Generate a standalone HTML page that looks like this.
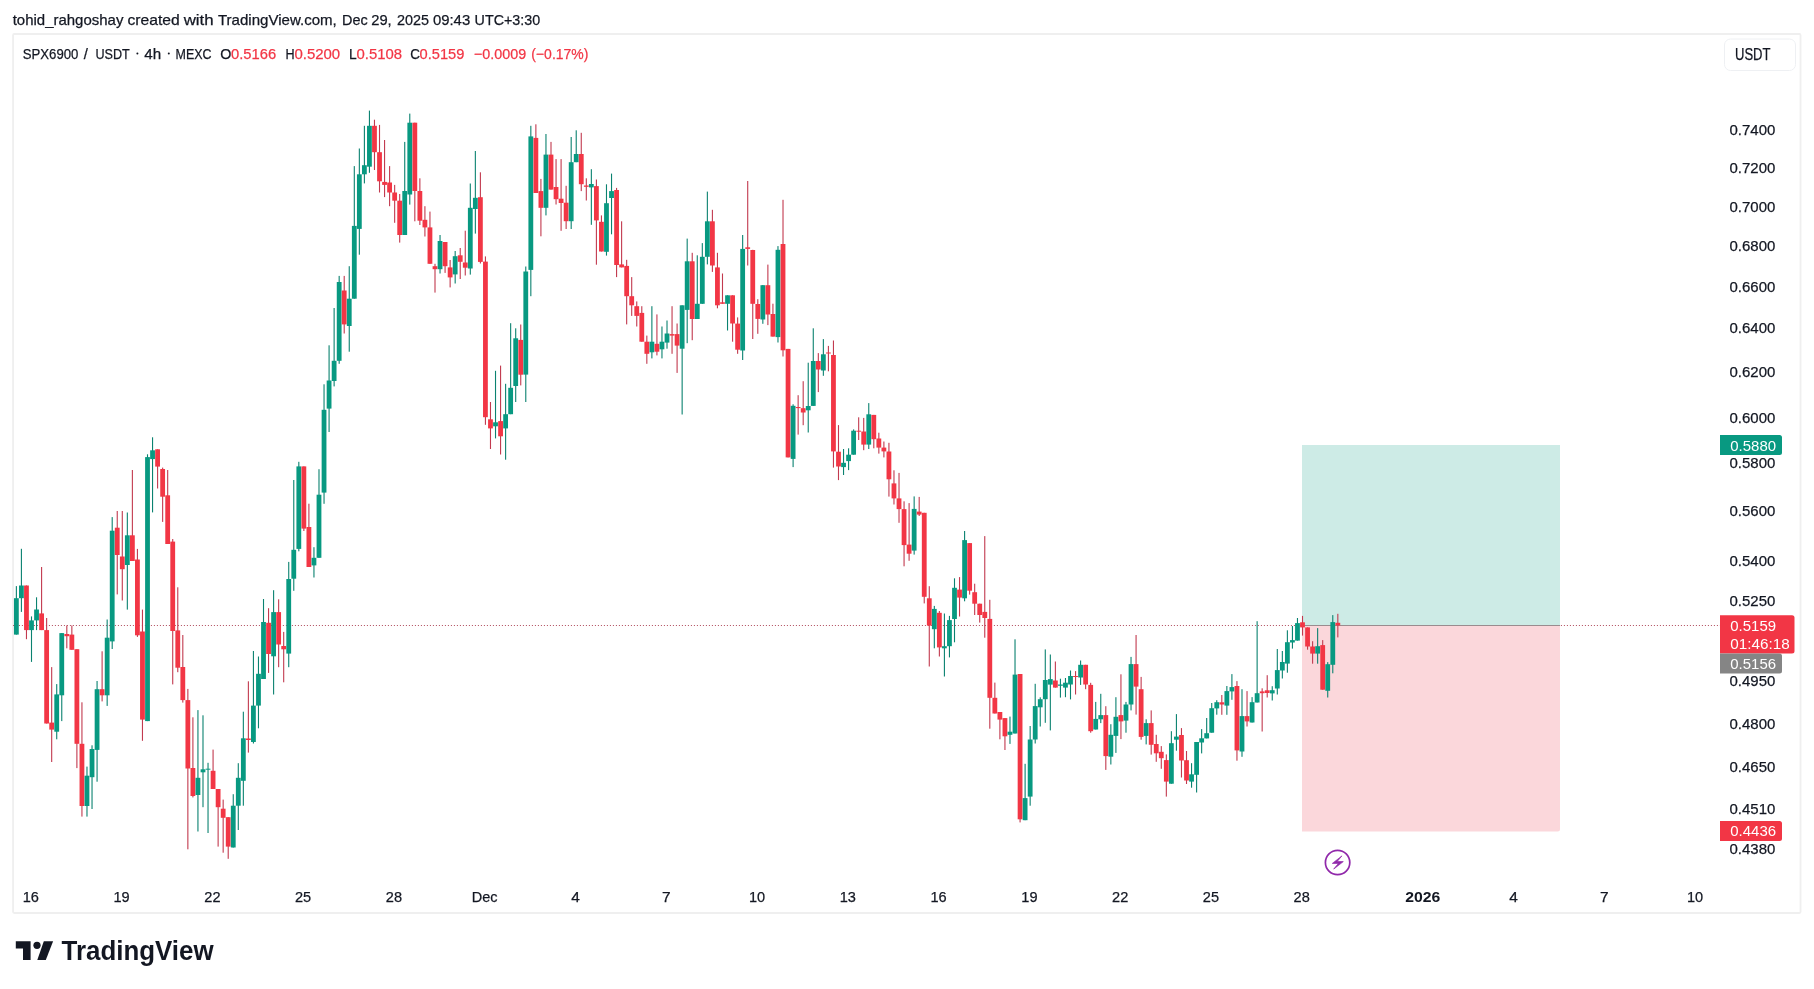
<!DOCTYPE html>
<html><head><meta charset="utf-8">
<style>
html,body{margin:0;padding:0;background:#fff;}
body{width:1814px;height:989px;position:relative;overflow:hidden;font-family:"Liberation Sans",sans-serif;}
svg{position:absolute;left:0;top:0;font-family:"Liberation Sans",sans-serif;filter:blur(0.35px);}
</style></head><body>
<svg width="1814" height="989" viewBox="0 0 1814 989">
<defs><clipPath id="pane"><rect x="13" y="35" width="1707" height="843"/></clipPath></defs>
<rect x="13.05" y="34" width="1787.5" height="879" rx="1.2" fill="none" stroke="#efefef" stroke-width="1.8"/>
<rect x="1724.5" y="39" width="71" height="31.5" rx="6" fill="none" stroke="#eef0f3" stroke-width="1"/>
<g clip-path="url(#pane)">
<rect x="1302" y="445" width="258" height="180" fill="#cdebe6"/>
<path d="M1302 625 H1560 V829 a2.5 2.5 0 0 1 -2.5 2.5 H1302 Z" fill="#fbd7db"/>
<line x1="12.9" y1="625.5" x2="1720" y2="625.5" stroke="#b04a5c" stroke-width="1" stroke-dasharray="1,2"/>
<line x1="1302" y1="625.5" x2="1560" y2="625.5" stroke="#9a8c8f" stroke-width="1"/>
<rect x="15.82" y="586.1" width="1.1" height="48.5" fill="#0b8270"/>
<rect x="13.97" y="598.2" width="4.8" height="36.4" fill="#089981"/>
<rect x="20.86" y="548.8" width="1.1" height="63.1" fill="#0b8270"/>
<rect x="19.01" y="585.5" width="4.8" height="12.7" fill="#089981"/>
<rect x="25.91" y="585.5" width="1.1" height="53.7" fill="#c23a4f"/>
<rect x="24.06" y="585.5" width="4.8" height="44.6" fill="#F23645"/>
<rect x="30.95" y="616.4" width="1.1" height="45.5" fill="#0b8270"/>
<rect x="29.10" y="620.4" width="4.8" height="9.7" fill="#089981"/>
<rect x="35.99" y="597.3" width="1.1" height="32.8" fill="#0b8270"/>
<rect x="34.14" y="609.5" width="4.8" height="10.9" fill="#089981"/>
<rect x="41.04" y="567.0" width="1.1" height="63.1" fill="#c23a4f"/>
<rect x="39.19" y="613.4" width="4.8" height="16.7" fill="#F23645"/>
<rect x="46.08" y="618.0" width="1.1" height="105.5" fill="#c23a4f"/>
<rect x="44.23" y="630.1" width="4.8" height="93.4" fill="#F23645"/>
<rect x="51.13" y="667.1" width="1.1" height="94.9" fill="#c23a4f"/>
<rect x="49.28" y="722.6" width="4.8" height="7.0" fill="#F23645"/>
<rect x="56.17" y="684.1" width="1.1" height="55.2" fill="#0b8270"/>
<rect x="54.32" y="694.4" width="4.8" height="37.3" fill="#089981"/>
<rect x="61.21" y="633.1" width="1.1" height="88.0" fill="#0b8270"/>
<rect x="59.36" y="633.1" width="4.8" height="62.2" fill="#089981"/>
<rect x="66.26" y="625.5" width="1.1" height="22.8" fill="#c23a4f"/>
<rect x="64.41" y="634.0" width="4.8" height="2.2" fill="#F23645"/>
<rect x="71.30" y="625.5" width="1.1" height="24.3" fill="#c23a4f"/>
<rect x="69.45" y="634.6" width="4.8" height="15.2" fill="#F23645"/>
<rect x="76.34" y="649.2" width="1.1" height="118.9" fill="#c23a4f"/>
<rect x="74.49" y="649.2" width="4.8" height="94.6" fill="#F23645"/>
<rect x="81.39" y="702.3" width="1.1" height="114.3" fill="#c23a4f"/>
<rect x="79.54" y="743.8" width="4.8" height="62.2" fill="#F23645"/>
<rect x="86.43" y="766.6" width="1.1" height="50.0" fill="#0b8270"/>
<rect x="84.58" y="775.7" width="4.8" height="30.3" fill="#089981"/>
<rect x="91.48" y="745.3" width="1.1" height="63.7" fill="#0b8270"/>
<rect x="89.63" y="749.0" width="4.8" height="28.2" fill="#089981"/>
<rect x="96.52" y="681.0" width="1.1" height="100.7" fill="#0b8270"/>
<rect x="94.67" y="689.2" width="4.8" height="60.7" fill="#089981"/>
<rect x="101.56" y="651.3" width="1.1" height="50.1" fill="#c23a4f"/>
<rect x="99.71" y="689.2" width="4.8" height="6.1" fill="#F23645"/>
<rect x="106.61" y="619.5" width="1.1" height="86.4" fill="#0b8270"/>
<rect x="104.76" y="637.7" width="4.8" height="57.6" fill="#089981"/>
<rect x="111.65" y="517.1" width="1.1" height="131.9" fill="#0b8270"/>
<rect x="109.80" y="530.7" width="4.8" height="110.7" fill="#089981"/>
<rect x="116.69" y="511.0" width="1.1" height="83.4" fill="#c23a4f"/>
<rect x="114.84" y="527.7" width="4.8" height="27.3" fill="#F23645"/>
<rect x="121.74" y="511.0" width="1.1" height="89.5" fill="#c23a4f"/>
<rect x="119.89" y="556.5" width="4.8" height="12.7" fill="#F23645"/>
<rect x="126.78" y="512.5" width="1.1" height="97.1" fill="#0b8270"/>
<rect x="124.93" y="535.3" width="4.8" height="29.7" fill="#089981"/>
<rect x="131.83" y="470.0" width="1.1" height="91.0" fill="#c23a4f"/>
<rect x="129.98" y="535.3" width="4.8" height="25.7" fill="#F23645"/>
<rect x="136.87" y="548.9" width="1.1" height="88.0" fill="#c23a4f"/>
<rect x="135.02" y="559.5" width="4.8" height="75.8" fill="#F23645"/>
<rect x="141.91" y="609.6" width="1.1" height="131.2" fill="#c23a4f"/>
<rect x="140.06" y="631.5" width="4.8" height="88.1" fill="#F23645"/>
<rect x="146.96" y="454.3" width="1.1" height="266.8" fill="#0b8270"/>
<rect x="145.11" y="457.1" width="4.8" height="264.0" fill="#089981"/>
<rect x="152.00" y="437.3" width="1.1" height="75.1" fill="#0b8270"/>
<rect x="150.15" y="450.3" width="4.8" height="8.8" fill="#089981"/>
<rect x="157.04" y="449.3" width="1.1" height="39.2" fill="#c23a4f"/>
<rect x="155.19" y="449.3" width="4.8" height="17.3" fill="#F23645"/>
<rect x="162.09" y="467.6" width="1.1" height="54.3" fill="#c23a4f"/>
<rect x="160.24" y="469.0" width="4.8" height="27.7" fill="#F23645"/>
<rect x="167.13" y="470.0" width="1.1" height="74.0" fill="#c23a4f"/>
<rect x="165.28" y="495.3" width="4.8" height="48.7" fill="#F23645"/>
<rect x="172.17" y="539.0" width="1.1" height="145.4" fill="#c23a4f"/>
<rect x="170.32" y="541.6" width="4.8" height="89.4" fill="#F23645"/>
<rect x="177.22" y="587.3" width="1.1" height="84.9" fill="#c23a4f"/>
<rect x="175.37" y="630.4" width="4.8" height="37.3" fill="#F23645"/>
<rect x="182.26" y="635.0" width="1.1" height="67.6" fill="#c23a4f"/>
<rect x="180.41" y="667.0" width="4.8" height="33.1" fill="#F23645"/>
<rect x="187.31" y="688.9" width="1.1" height="160.4" fill="#c23a4f"/>
<rect x="185.46" y="700.1" width="4.8" height="68.4" fill="#F23645"/>
<rect x="192.35" y="717.3" width="1.1" height="80.1" fill="#c23a4f"/>
<rect x="190.50" y="768.0" width="4.8" height="28.0" fill="#F23645"/>
<rect x="197.39" y="710.1" width="1.1" height="121.4" fill="#0b8270"/>
<rect x="195.54" y="777.8" width="4.8" height="17.2" fill="#089981"/>
<rect x="202.44" y="715.3" width="1.1" height="91.9" fill="#0b8270"/>
<rect x="200.59" y="769.3" width="4.8" height="3.0" fill="#089981"/>
<rect x="207.48" y="762.8" width="1.1" height="70.2" fill="#0b8270"/>
<rect x="205.63" y="768.7" width="4.8" height="1.0" fill="#089981"/>
<rect x="212.52" y="749.6" width="1.1" height="39.4" fill="#c23a4f"/>
<rect x="210.67" y="770.8" width="4.8" height="18.2" fill="#F23645"/>
<rect x="217.57" y="789.0" width="1.1" height="57.6" fill="#c23a4f"/>
<rect x="215.72" y="789.0" width="4.8" height="18.2" fill="#F23645"/>
<rect x="222.61" y="799.6" width="1.1" height="53.1" fill="#c23a4f"/>
<rect x="220.76" y="808.7" width="4.8" height="9.1" fill="#F23645"/>
<rect x="227.66" y="817.2" width="1.1" height="41.6" fill="#c23a4f"/>
<rect x="225.81" y="817.2" width="4.8" height="29.4" fill="#F23645"/>
<rect x="232.70" y="794.2" width="1.1" height="53.3" fill="#0b8270"/>
<rect x="230.85" y="805.7" width="4.8" height="41.8" fill="#089981"/>
<rect x="237.74" y="763.2" width="1.1" height="66.8" fill="#0b8270"/>
<rect x="235.89" y="777.8" width="4.8" height="27.9" fill="#089981"/>
<rect x="242.79" y="711.7" width="1.1" height="94.0" fill="#0b8270"/>
<rect x="240.94" y="738.3" width="4.8" height="42.5" fill="#089981"/>
<rect x="247.83" y="681.3" width="1.1" height="71.3" fill="#c23a4f"/>
<rect x="245.98" y="738.5" width="4.8" height="1.5" fill="#F23645"/>
<rect x="252.87" y="651.0" width="1.1" height="92.5" fill="#0b8270"/>
<rect x="251.02" y="705.6" width="4.8" height="36.4" fill="#089981"/>
<rect x="257.92" y="656.5" width="1.1" height="71.8" fill="#0b8270"/>
<rect x="256.07" y="673.8" width="4.8" height="31.8" fill="#089981"/>
<rect x="262.96" y="599.0" width="1.1" height="80.0" fill="#0b8270"/>
<rect x="261.11" y="622.0" width="4.8" height="57.0" fill="#089981"/>
<rect x="268.00" y="608.2" width="1.1" height="64.7" fill="#c23a4f"/>
<rect x="266.16" y="622.8" width="4.8" height="31.2" fill="#F23645"/>
<rect x="273.05" y="590.2" width="1.1" height="104.3" fill="#0b8270"/>
<rect x="271.20" y="612.1" width="4.8" height="44.2" fill="#089981"/>
<rect x="278.09" y="599.3" width="1.1" height="67.9" fill="#c23a4f"/>
<rect x="276.24" y="612.1" width="4.8" height="32.4" fill="#F23645"/>
<rect x="283.14" y="631.9" width="1.1" height="50.4" fill="#c23a4f"/>
<rect x="281.29" y="646.0" width="4.8" height="3.3" fill="#F23645"/>
<rect x="288.18" y="561.9" width="1.1" height="105.3" fill="#0b8270"/>
<rect x="286.33" y="579.0" width="4.8" height="74.6" fill="#089981"/>
<rect x="293.22" y="480.0" width="1.1" height="110.8" fill="#0b8270"/>
<rect x="291.37" y="549.8" width="4.8" height="28.9" fill="#089981"/>
<rect x="298.27" y="461.8" width="1.1" height="89.5" fill="#0b8270"/>
<rect x="296.42" y="466.4" width="4.8" height="82.5" fill="#089981"/>
<rect x="303.31" y="466.4" width="1.1" height="64.6" fill="#c23a4f"/>
<rect x="301.46" y="466.4" width="4.8" height="62.2" fill="#F23645"/>
<rect x="308.35" y="503.7" width="1.1" height="63.3" fill="#c23a4f"/>
<rect x="306.50" y="527.0" width="4.8" height="40.0" fill="#F23645"/>
<rect x="313.40" y="547.2" width="1.1" height="30.3" fill="#0b8270"/>
<rect x="311.55" y="557.8" width="4.8" height="7.6" fill="#089981"/>
<rect x="318.44" y="469.2" width="1.1" height="88.6" fill="#0b8270"/>
<rect x="316.59" y="494.7" width="4.8" height="63.1" fill="#089981"/>
<rect x="323.49" y="384.3" width="1.1" height="119.5" fill="#0b8270"/>
<rect x="321.64" y="409.8" width="4.8" height="82.8" fill="#089981"/>
<rect x="328.53" y="345.3" width="1.1" height="86.7" fill="#0b8270"/>
<rect x="326.68" y="380.5" width="4.8" height="28.1" fill="#089981"/>
<rect x="333.57" y="308.0" width="1.1" height="78.4" fill="#0b8270"/>
<rect x="331.72" y="360.8" width="4.8" height="20.2" fill="#089981"/>
<rect x="338.62" y="275.9" width="1.1" height="87.9" fill="#0b8270"/>
<rect x="336.77" y="282.0" width="4.8" height="78.8" fill="#089981"/>
<rect x="343.66" y="275.9" width="1.1" height="57.6" fill="#c23a4f"/>
<rect x="341.81" y="290.5" width="4.8" height="33.9" fill="#F23645"/>
<rect x="348.70" y="266.2" width="1.1" height="85.5" fill="#0b8270"/>
<rect x="346.85" y="298.7" width="4.8" height="27.3" fill="#089981"/>
<rect x="353.75" y="166.1" width="1.1" height="132.6" fill="#0b8270"/>
<rect x="351.90" y="225.9" width="4.8" height="72.8" fill="#089981"/>
<rect x="358.79" y="148.5" width="1.1" height="106.2" fill="#0b8270"/>
<rect x="356.94" y="174.3" width="4.8" height="54.6" fill="#089981"/>
<rect x="363.84" y="125.8" width="1.1" height="57.6" fill="#0b8270"/>
<rect x="361.99" y="165.2" width="4.8" height="9.1" fill="#089981"/>
<rect x="368.88" y="110.6" width="1.1" height="62.2" fill="#0b8270"/>
<rect x="367.03" y="125.8" width="4.8" height="40.9" fill="#089981"/>
<rect x="373.92" y="119.7" width="1.1" height="50.3" fill="#c23a4f"/>
<rect x="372.07" y="125.8" width="4.8" height="26.4" fill="#F23645"/>
<rect x="378.97" y="124.9" width="1.1" height="67.6" fill="#c23a4f"/>
<rect x="377.12" y="152.2" width="4.8" height="29.1" fill="#F23645"/>
<rect x="384.01" y="140.0" width="1.1" height="57.1" fill="#c23a4f"/>
<rect x="382.16" y="181.9" width="4.8" height="3.0" fill="#F23645"/>
<rect x="389.05" y="166.1" width="1.1" height="40.1" fill="#c23a4f"/>
<rect x="387.20" y="182.5" width="4.8" height="10.0" fill="#F23645"/>
<rect x="394.10" y="184.9" width="1.1" height="37.9" fill="#c23a4f"/>
<rect x="392.25" y="192.5" width="4.8" height="8.2" fill="#F23645"/>
<rect x="399.14" y="194.0" width="1.1" height="48.6" fill="#c23a4f"/>
<rect x="397.29" y="200.7" width="4.8" height="34.3" fill="#F23645"/>
<rect x="404.18" y="141.9" width="1.1" height="93.1" fill="#0b8270"/>
<rect x="402.33" y="191.0" width="4.8" height="44.0" fill="#089981"/>
<rect x="409.23" y="113.6" width="1.1" height="91.0" fill="#0b8270"/>
<rect x="407.38" y="122.7" width="4.8" height="71.8" fill="#089981"/>
<rect x="414.27" y="122.7" width="1.1" height="98.6" fill="#c23a4f"/>
<rect x="412.42" y="122.7" width="4.8" height="68.3" fill="#F23645"/>
<rect x="419.32" y="178.3" width="1.1" height="46.7" fill="#c23a4f"/>
<rect x="417.47" y="191.0" width="4.8" height="29.7" fill="#F23645"/>
<rect x="424.36" y="206.2" width="1.1" height="30.3" fill="#c23a4f"/>
<rect x="422.51" y="219.8" width="4.8" height="7.6" fill="#F23645"/>
<rect x="429.40" y="211.6" width="1.1" height="52.2" fill="#c23a4f"/>
<rect x="427.55" y="227.4" width="4.8" height="36.4" fill="#F23645"/>
<rect x="434.45" y="263.8" width="1.1" height="28.8" fill="#c23a4f"/>
<rect x="432.60" y="266.2" width="4.8" height="3.0" fill="#F23645"/>
<rect x="439.49" y="235.0" width="1.1" height="38.5" fill="#0b8270"/>
<rect x="437.64" y="241.0" width="4.8" height="28.2" fill="#089981"/>
<rect x="444.53" y="242.0" width="1.1" height="30.9" fill="#c23a4f"/>
<rect x="442.68" y="242.0" width="4.8" height="24.2" fill="#F23645"/>
<rect x="449.58" y="260.0" width="1.1" height="27.4" fill="#c23a4f"/>
<rect x="447.73" y="267.4" width="4.8" height="10.0" fill="#F23645"/>
<rect x="454.62" y="251.0" width="1.1" height="32.5" fill="#0b8270"/>
<rect x="452.77" y="256.2" width="4.8" height="18.2" fill="#089981"/>
<rect x="459.67" y="248.0" width="1.1" height="31.0" fill="#c23a4f"/>
<rect x="457.82" y="255.3" width="4.8" height="6.5" fill="#F23645"/>
<rect x="464.71" y="230.7" width="1.1" height="44.8" fill="#c23a4f"/>
<rect x="462.86" y="262.5" width="4.8" height="5.2" fill="#F23645"/>
<rect x="469.75" y="183.5" width="1.1" height="91.1" fill="#0b8270"/>
<rect x="467.90" y="207.8" width="4.8" height="60.7" fill="#089981"/>
<rect x="474.80" y="151.0" width="1.1" height="82.6" fill="#0b8270"/>
<rect x="472.95" y="197.8" width="4.8" height="11.2" fill="#089981"/>
<rect x="479.84" y="172.3" width="1.1" height="91.2" fill="#c23a4f"/>
<rect x="477.99" y="197.2" width="4.8" height="64.7" fill="#F23645"/>
<rect x="484.88" y="256.4" width="1.1" height="168.4" fill="#c23a4f"/>
<rect x="483.03" y="261.6" width="4.8" height="155.6" fill="#F23645"/>
<rect x="489.93" y="402.0" width="1.1" height="47.0" fill="#c23a4f"/>
<rect x="488.08" y="419.3" width="4.8" height="9.1" fill="#F23645"/>
<rect x="494.97" y="370.8" width="1.1" height="67.6" fill="#0b8270"/>
<rect x="493.12" y="422.3" width="4.8" height="4.0" fill="#089981"/>
<rect x="500.02" y="365.6" width="1.1" height="88.9" fill="#c23a4f"/>
<rect x="498.17" y="421.1" width="4.8" height="15.2" fill="#F23645"/>
<rect x="505.06" y="383.8" width="1.1" height="75.9" fill="#0b8270"/>
<rect x="503.21" y="414.2" width="4.8" height="14.2" fill="#089981"/>
<rect x="510.10" y="323.2" width="1.1" height="91.0" fill="#0b8270"/>
<rect x="508.25" y="387.8" width="4.8" height="26.4" fill="#089981"/>
<rect x="515.15" y="328.3" width="1.1" height="73.7" fill="#0b8270"/>
<rect x="513.30" y="338.3" width="4.8" height="47.7" fill="#089981"/>
<rect x="520.19" y="324.5" width="1.1" height="60.9" fill="#c23a4f"/>
<rect x="518.34" y="339.9" width="4.8" height="34.8" fill="#F23645"/>
<rect x="525.23" y="266.5" width="1.1" height="135.5" fill="#0b8270"/>
<rect x="523.38" y="271.5" width="4.8" height="103.1" fill="#089981"/>
<rect x="530.28" y="125.8" width="1.1" height="170.4" fill="#0b8270"/>
<rect x="528.43" y="136.4" width="4.8" height="133.5" fill="#089981"/>
<rect x="535.32" y="124.3" width="1.1" height="68.7" fill="#c23a4f"/>
<rect x="533.47" y="137.9" width="4.8" height="55.1" fill="#F23645"/>
<rect x="540.36" y="178.9" width="1.1" height="57.4" fill="#c23a4f"/>
<rect x="538.51" y="191.1" width="4.8" height="16.7" fill="#F23645"/>
<rect x="545.41" y="134.0" width="1.1" height="81.4" fill="#0b8270"/>
<rect x="543.56" y="154.6" width="4.8" height="53.2" fill="#089981"/>
<rect x="550.45" y="141.9" width="1.1" height="47.7" fill="#c23a4f"/>
<rect x="548.60" y="154.6" width="4.8" height="35.0" fill="#F23645"/>
<rect x="555.50" y="159.1" width="1.1" height="45.4" fill="#c23a4f"/>
<rect x="553.65" y="187.0" width="4.8" height="12.2" fill="#F23645"/>
<rect x="560.54" y="159.1" width="1.1" height="71.7" fill="#c23a4f"/>
<rect x="558.69" y="198.7" width="4.8" height="4.3" fill="#F23645"/>
<rect x="565.58" y="185.8" width="1.1" height="43.2" fill="#c23a4f"/>
<rect x="563.73" y="202.7" width="4.8" height="18.5" fill="#F23645"/>
<rect x="570.63" y="137.0" width="1.1" height="92.0" fill="#0b8270"/>
<rect x="568.78" y="162.2" width="4.8" height="59.0" fill="#089981"/>
<rect x="575.67" y="130.3" width="1.1" height="31.9" fill="#0b8270"/>
<rect x="573.82" y="154.0" width="4.8" height="8.2" fill="#089981"/>
<rect x="580.71" y="132.8" width="1.1" height="58.3" fill="#c23a4f"/>
<rect x="578.86" y="154.0" width="4.8" height="30.2" fill="#F23645"/>
<rect x="585.76" y="178.3" width="1.1" height="22.2" fill="#c23a4f"/>
<rect x="583.91" y="185.5" width="4.8" height="1.3" fill="#F23645"/>
<rect x="590.80" y="169.2" width="1.1" height="55.6" fill="#0b8270"/>
<rect x="588.95" y="184.0" width="4.8" height="3.4" fill="#089981"/>
<rect x="595.85" y="179.5" width="1.1" height="85.2" fill="#c23a4f"/>
<rect x="594.00" y="186.1" width="4.8" height="34.3" fill="#F23645"/>
<rect x="600.89" y="215.4" width="1.1" height="36.1" fill="#c23a4f"/>
<rect x="599.04" y="221.8" width="4.8" height="29.7" fill="#F23645"/>
<rect x="605.93" y="184.3" width="1.1" height="71.3" fill="#0b8270"/>
<rect x="604.08" y="203.2" width="4.8" height="48.6" fill="#089981"/>
<rect x="610.98" y="173.6" width="1.1" height="60.7" fill="#0b8270"/>
<rect x="609.13" y="191.1" width="4.8" height="6.9" fill="#089981"/>
<rect x="616.02" y="187.9" width="1.1" height="89.2" fill="#c23a4f"/>
<rect x="614.17" y="190.0" width="4.8" height="75.0" fill="#F23645"/>
<rect x="621.06" y="221.3" width="1.1" height="46.1" fill="#c23a4f"/>
<rect x="619.21" y="264.4" width="4.8" height="3.0" fill="#F23645"/>
<rect x="626.11" y="259.8" width="1.1" height="64.6" fill="#c23a4f"/>
<rect x="624.26" y="265.9" width="4.8" height="30.3" fill="#F23645"/>
<rect x="631.15" y="277.1" width="1.1" height="38.8" fill="#c23a4f"/>
<rect x="629.30" y="296.2" width="4.8" height="9.1" fill="#F23645"/>
<rect x="636.20" y="301.4" width="1.1" height="25.1" fill="#c23a4f"/>
<rect x="634.35" y="306.2" width="4.8" height="9.7" fill="#F23645"/>
<rect x="641.24" y="306.2" width="1.1" height="35.5" fill="#c23a4f"/>
<rect x="639.39" y="312.9" width="4.8" height="28.8" fill="#F23645"/>
<rect x="646.28" y="335.6" width="1.1" height="28.2" fill="#c23a4f"/>
<rect x="644.43" y="341.7" width="4.8" height="12.1" fill="#F23645"/>
<rect x="651.33" y="306.2" width="1.1" height="52.2" fill="#0b8270"/>
<rect x="649.48" y="341.7" width="4.8" height="10.6" fill="#089981"/>
<rect x="656.37" y="314.4" width="1.1" height="41.0" fill="#c23a4f"/>
<rect x="654.52" y="343.8" width="4.8" height="7.9" fill="#F23645"/>
<rect x="661.41" y="326.5" width="1.1" height="31.9" fill="#0b8270"/>
<rect x="659.56" y="341.7" width="4.8" height="7.6" fill="#089981"/>
<rect x="666.46" y="320.5" width="1.1" height="28.2" fill="#0b8270"/>
<rect x="664.61" y="333.5" width="4.8" height="9.1" fill="#089981"/>
<rect x="671.50" y="306.2" width="1.1" height="47.6" fill="#c23a4f"/>
<rect x="669.65" y="334.1" width="4.8" height="1.5" fill="#F23645"/>
<rect x="676.54" y="323.5" width="1.1" height="49.4" fill="#c23a4f"/>
<rect x="674.69" y="334.1" width="4.8" height="11.5" fill="#F23645"/>
<rect x="681.59" y="305.3" width="1.1" height="109.2" fill="#0b8270"/>
<rect x="679.74" y="305.3" width="4.8" height="43.4" fill="#089981"/>
<rect x="686.63" y="238.6" width="1.1" height="104.6" fill="#0b8270"/>
<rect x="684.78" y="261.3" width="4.8" height="48.6" fill="#089981"/>
<rect x="691.68" y="252.8" width="1.1" height="87.4" fill="#c23a4f"/>
<rect x="689.83" y="261.3" width="4.8" height="57.7" fill="#F23645"/>
<rect x="696.72" y="255.3" width="1.1" height="63.7" fill="#0b8270"/>
<rect x="694.87" y="303.8" width="4.8" height="15.2" fill="#089981"/>
<rect x="701.76" y="243.1" width="1.1" height="60.7" fill="#0b8270"/>
<rect x="699.91" y="256.8" width="4.8" height="47.0" fill="#089981"/>
<rect x="706.81" y="191.6" width="1.1" height="72.8" fill="#0b8270"/>
<rect x="704.96" y="221.3" width="4.8" height="35.5" fill="#089981"/>
<rect x="711.85" y="209.8" width="1.1" height="62.1" fill="#c23a4f"/>
<rect x="710.00" y="221.3" width="4.8" height="44.2" fill="#F23645"/>
<rect x="716.89" y="252.8" width="1.1" height="55.5" fill="#c23a4f"/>
<rect x="715.04" y="267.4" width="4.8" height="37.9" fill="#F23645"/>
<rect x="721.94" y="273.5" width="1.1" height="30.3" fill="#c23a4f"/>
<rect x="720.09" y="302.3" width="4.8" height="1.5" fill="#F23645"/>
<rect x="726.98" y="295.3" width="1.1" height="35.2" fill="#0b8270"/>
<rect x="725.13" y="295.3" width="4.8" height="8.5" fill="#089981"/>
<rect x="732.03" y="295.3" width="1.1" height="46.4" fill="#c23a4f"/>
<rect x="730.18" y="295.3" width="4.8" height="28.2" fill="#F23645"/>
<rect x="737.07" y="317.4" width="1.1" height="36.4" fill="#c23a4f"/>
<rect x="735.22" y="323.6" width="4.8" height="26.1" fill="#F23645"/>
<rect x="742.11" y="235.0" width="1.1" height="125.0" fill="#0b8270"/>
<rect x="740.26" y="248.9" width="4.8" height="101.6" fill="#089981"/>
<rect x="747.16" y="181.0" width="1.1" height="84.5" fill="#c23a4f"/>
<rect x="745.31" y="247.3" width="4.8" height="1.6" fill="#F23645"/>
<rect x="752.20" y="249.8" width="1.1" height="89.2" fill="#c23a4f"/>
<rect x="750.35" y="250.0" width="4.8" height="53.8" fill="#F23645"/>
<rect x="757.24" y="299.2" width="1.1" height="34.6" fill="#c23a4f"/>
<rect x="755.39" y="304.0" width="4.8" height="14.9" fill="#F23645"/>
<rect x="762.29" y="285.0" width="1.1" height="38.8" fill="#0b8270"/>
<rect x="760.44" y="285.2" width="4.8" height="34.3" fill="#089981"/>
<rect x="767.33" y="264.6" width="1.1" height="60.5" fill="#c23a4f"/>
<rect x="765.48" y="285.2" width="4.8" height="29.3" fill="#F23645"/>
<rect x="772.38" y="303.7" width="1.1" height="32.9" fill="#c23a4f"/>
<rect x="770.53" y="314.0" width="4.8" height="22.6" fill="#F23645"/>
<rect x="777.42" y="246.1" width="1.1" height="96.4" fill="#0b8270"/>
<rect x="775.57" y="249.8" width="4.8" height="87.3" fill="#089981"/>
<rect x="782.46" y="199.8" width="1.1" height="156.7" fill="#c23a4f"/>
<rect x="780.61" y="244.0" width="4.8" height="106.3" fill="#F23645"/>
<rect x="787.51" y="348.9" width="1.1" height="108.5" fill="#c23a4f"/>
<rect x="785.66" y="348.9" width="4.8" height="108.5" fill="#F23645"/>
<rect x="792.55" y="404.3" width="1.1" height="62.8" fill="#0b8270"/>
<rect x="790.70" y="405.8" width="4.8" height="53.1" fill="#089981"/>
<rect x="797.59" y="395.2" width="1.1" height="39.4" fill="#c23a4f"/>
<rect x="795.74" y="407.0" width="4.8" height="1.1" fill="#F23645"/>
<rect x="802.64" y="381.2" width="1.1" height="44.0" fill="#c23a4f"/>
<rect x="800.79" y="408.2" width="4.8" height="4.3" fill="#F23645"/>
<rect x="807.68" y="362.7" width="1.1" height="69.8" fill="#0b8270"/>
<rect x="805.83" y="406.0" width="4.8" height="4.3" fill="#089981"/>
<rect x="812.72" y="328.3" width="1.1" height="77.6" fill="#0b8270"/>
<rect x="810.87" y="361.0" width="4.8" height="44.9" fill="#089981"/>
<rect x="817.77" y="353.1" width="1.1" height="39.0" fill="#c23a4f"/>
<rect x="815.92" y="361.0" width="4.8" height="8.5" fill="#F23645"/>
<rect x="822.81" y="339.1" width="1.1" height="36.7" fill="#0b8270"/>
<rect x="820.96" y="354.3" width="4.8" height="16.2" fill="#089981"/>
<rect x="827.86" y="345.9" width="1.1" height="25.4" fill="#c23a4f"/>
<rect x="826.01" y="352.5" width="4.8" height="1.0" fill="#F23645"/>
<rect x="832.90" y="340.5" width="1.1" height="127.1" fill="#c23a4f"/>
<rect x="831.05" y="355.0" width="4.8" height="96.4" fill="#F23645"/>
<rect x="837.94" y="425.1" width="1.1" height="55.0" fill="#c23a4f"/>
<rect x="836.09" y="451.7" width="4.8" height="14.8" fill="#F23645"/>
<rect x="842.99" y="449.0" width="1.1" height="26.0" fill="#0b8270"/>
<rect x="841.14" y="462.8" width="4.8" height="4.3" fill="#089981"/>
<rect x="848.03" y="448.3" width="1.1" height="21.8" fill="#0b8270"/>
<rect x="846.18" y="454.7" width="4.8" height="6.4" fill="#089981"/>
<rect x="853.07" y="429.4" width="1.1" height="25.3" fill="#0b8270"/>
<rect x="851.22" y="430.7" width="4.8" height="24.0" fill="#089981"/>
<rect x="858.12" y="417.3" width="1.1" height="22.7" fill="#c23a4f"/>
<rect x="856.27" y="430.7" width="4.8" height="1.0" fill="#F23645"/>
<rect x="863.16" y="417.9" width="1.1" height="32.3" fill="#c23a4f"/>
<rect x="861.31" y="431.5" width="4.8" height="13.1" fill="#F23645"/>
<rect x="868.21" y="403.1" width="1.1" height="45.9" fill="#0b8270"/>
<rect x="866.36" y="414.3" width="4.8" height="30.3" fill="#089981"/>
<rect x="873.25" y="414.9" width="1.1" height="33.4" fill="#c23a4f"/>
<rect x="871.40" y="414.9" width="4.8" height="24.3" fill="#F23645"/>
<rect x="878.29" y="432.7" width="1.1" height="20.9" fill="#c23a4f"/>
<rect x="876.44" y="438.5" width="4.8" height="9.1" fill="#F23645"/>
<rect x="883.34" y="441.5" width="1.1" height="15.9" fill="#c23a4f"/>
<rect x="881.49" y="447.6" width="4.8" height="3.8" fill="#F23645"/>
<rect x="888.38" y="442.8" width="1.1" height="53.8" fill="#c23a4f"/>
<rect x="886.53" y="451.5" width="4.8" height="27.8" fill="#F23645"/>
<rect x="893.42" y="470.3" width="1.1" height="34.2" fill="#c23a4f"/>
<rect x="891.57" y="483.4" width="4.8" height="15.0" fill="#F23645"/>
<rect x="898.47" y="472.9" width="1.1" height="49.9" fill="#c23a4f"/>
<rect x="896.62" y="498.4" width="4.8" height="10.7" fill="#F23645"/>
<rect x="903.51" y="501.3" width="1.1" height="65.0" fill="#c23a4f"/>
<rect x="901.66" y="509.1" width="4.8" height="36.0" fill="#F23645"/>
<rect x="908.55" y="503.1" width="1.1" height="57.7" fill="#c23a4f"/>
<rect x="906.70" y="544.6" width="4.8" height="9.1" fill="#F23645"/>
<rect x="913.60" y="496.4" width="1.1" height="58.2" fill="#0b8270"/>
<rect x="911.75" y="508.9" width="4.8" height="41.7" fill="#089981"/>
<rect x="918.64" y="496.9" width="1.1" height="19.1" fill="#c23a4f"/>
<rect x="916.79" y="511.6" width="4.8" height="3.0" fill="#F23645"/>
<rect x="923.69" y="512.8" width="1.1" height="90.6" fill="#c23a4f"/>
<rect x="921.84" y="512.8" width="4.8" height="84.0" fill="#F23645"/>
<rect x="928.73" y="586.2" width="1.1" height="80.3" fill="#c23a4f"/>
<rect x="926.88" y="598.3" width="4.8" height="27.3" fill="#F23645"/>
<rect x="933.77" y="605.9" width="1.1" height="42.4" fill="#0b8270"/>
<rect x="931.92" y="608.9" width="4.8" height="20.3" fill="#089981"/>
<rect x="938.82" y="611.0" width="1.1" height="45.5" fill="#c23a4f"/>
<rect x="936.97" y="612.8" width="4.8" height="34.6" fill="#F23645"/>
<rect x="943.86" y="613.5" width="1.1" height="63.0" fill="#0b8270"/>
<rect x="942.01" y="646.2" width="4.8" height="2.1" fill="#089981"/>
<rect x="948.90" y="615.9" width="1.1" height="41.5" fill="#0b8270"/>
<rect x="947.05" y="620.1" width="4.8" height="26.1" fill="#089981"/>
<rect x="953.95" y="578.3" width="1.1" height="64.0" fill="#0b8270"/>
<rect x="952.10" y="587.8" width="4.8" height="31.2" fill="#089981"/>
<rect x="958.99" y="577.1" width="1.1" height="39.4" fill="#c23a4f"/>
<rect x="957.14" y="589.6" width="4.8" height="8.0" fill="#F23645"/>
<rect x="964.04" y="531.0" width="1.1" height="70.3" fill="#0b8270"/>
<rect x="962.19" y="540.1" width="4.8" height="58.2" fill="#089981"/>
<rect x="969.08" y="543.1" width="1.1" height="51.5" fill="#c23a4f"/>
<rect x="967.23" y="543.1" width="4.8" height="47.6" fill="#F23645"/>
<rect x="974.12" y="583.7" width="1.1" height="31.3" fill="#c23a4f"/>
<rect x="972.27" y="592.2" width="4.8" height="11.5" fill="#F23645"/>
<rect x="979.17" y="603.7" width="1.1" height="18.9" fill="#c23a4f"/>
<rect x="977.32" y="603.7" width="4.8" height="11.3" fill="#F23645"/>
<rect x="984.21" y="536.1" width="1.1" height="101.6" fill="#c23a4f"/>
<rect x="982.36" y="611.9" width="4.8" height="6.1" fill="#F23645"/>
<rect x="989.25" y="599.8" width="1.1" height="128.9" fill="#c23a4f"/>
<rect x="987.40" y="618.9" width="4.8" height="78.9" fill="#F23645"/>
<rect x="994.30" y="682.6" width="1.1" height="30.9" fill="#c23a4f"/>
<rect x="992.45" y="697.8" width="4.8" height="15.7" fill="#F23645"/>
<rect x="999.34" y="712.0" width="1.1" height="27.3" fill="#c23a4f"/>
<rect x="997.49" y="712.0" width="4.8" height="7.6" fill="#F23645"/>
<rect x="1004.39" y="718.1" width="1.1" height="31.9" fill="#c23a4f"/>
<rect x="1002.54" y="718.1" width="4.8" height="18.2" fill="#F23645"/>
<rect x="1009.43" y="716.6" width="1.1" height="27.3" fill="#0b8270"/>
<rect x="1007.58" y="731.7" width="4.8" height="3.1" fill="#089981"/>
<rect x="1014.47" y="639.3" width="1.1" height="94.2" fill="#0b8270"/>
<rect x="1012.62" y="674.6" width="4.8" height="58.9" fill="#089981"/>
<rect x="1019.52" y="674.0" width="1.1" height="148.4" fill="#c23a4f"/>
<rect x="1017.67" y="674.0" width="4.8" height="145.3" fill="#F23645"/>
<rect x="1024.56" y="763.8" width="1.1" height="56.4" fill="#0b8270"/>
<rect x="1022.71" y="798.1" width="4.8" height="22.1" fill="#089981"/>
<rect x="1029.60" y="726.0" width="1.1" height="79.7" fill="#0b8270"/>
<rect x="1027.75" y="739.5" width="4.8" height="57.1" fill="#089981"/>
<rect x="1034.65" y="683.8" width="1.1" height="59.7" fill="#0b8270"/>
<rect x="1032.80" y="706.1" width="4.8" height="33.4" fill="#089981"/>
<rect x="1039.69" y="697.3" width="1.1" height="29.2" fill="#0b8270"/>
<rect x="1037.84" y="699.2" width="4.8" height="8.1" fill="#089981"/>
<rect x="1044.73" y="649.4" width="1.1" height="73.4" fill="#0b8270"/>
<rect x="1042.88" y="680.0" width="4.8" height="19.2" fill="#089981"/>
<rect x="1049.78" y="654.5" width="1.1" height="75.9" fill="#0b8270"/>
<rect x="1047.93" y="679.1" width="4.8" height="5.5" fill="#089981"/>
<rect x="1054.82" y="661.5" width="1.1" height="26.1" fill="#c23a4f"/>
<rect x="1052.97" y="680.5" width="4.8" height="7.1" fill="#F23645"/>
<rect x="1059.87" y="678.7" width="1.1" height="18.9" fill="#0b8270"/>
<rect x="1058.02" y="684.5" width="4.8" height="1.3" fill="#089981"/>
<rect x="1064.91" y="678.0" width="1.1" height="19.2" fill="#0b8270"/>
<rect x="1063.06" y="682.7" width="4.8" height="4.9" fill="#089981"/>
<rect x="1069.95" y="670.5" width="1.1" height="28.9" fill="#0b8270"/>
<rect x="1068.10" y="676.0" width="4.8" height="8.5" fill="#089981"/>
<rect x="1075.00" y="671.1" width="1.1" height="23.4" fill="#c23a4f"/>
<rect x="1073.15" y="676.0" width="4.8" height="1.0" fill="#F23645"/>
<rect x="1080.04" y="660.5" width="1.1" height="24.4" fill="#0b8270"/>
<rect x="1078.19" y="664.8" width="4.8" height="12.7" fill="#089981"/>
<rect x="1085.08" y="664.8" width="1.1" height="24.4" fill="#c23a4f"/>
<rect x="1083.23" y="664.8" width="4.8" height="19.7" fill="#F23645"/>
<rect x="1090.13" y="682.8" width="1.1" height="49.9" fill="#c23a4f"/>
<rect x="1088.28" y="684.9" width="4.8" height="46.3" fill="#F23645"/>
<rect x="1095.17" y="701.9" width="1.1" height="27.6" fill="#0b8270"/>
<rect x="1093.32" y="718.9" width="4.8" height="10.6" fill="#089981"/>
<rect x="1100.22" y="693.8" width="1.1" height="29.3" fill="#0b8270"/>
<rect x="1098.37" y="715.1" width="4.8" height="4.2" fill="#089981"/>
<rect x="1105.26" y="706.2" width="1.1" height="63.7" fill="#c23a4f"/>
<rect x="1103.41" y="715.1" width="4.8" height="41.0" fill="#F23645"/>
<rect x="1110.30" y="724.2" width="1.1" height="40.3" fill="#0b8270"/>
<rect x="1108.45" y="734.8" width="4.8" height="21.9" fill="#089981"/>
<rect x="1115.35" y="697.2" width="1.1" height="55.7" fill="#0b8270"/>
<rect x="1113.50" y="716.8" width="4.8" height="19.1" fill="#089981"/>
<rect x="1120.39" y="674.3" width="1.1" height="64.8" fill="#c23a4f"/>
<rect x="1118.54" y="715.1" width="4.8" height="6.3" fill="#F23645"/>
<rect x="1125.43" y="701.9" width="1.1" height="30.8" fill="#0b8270"/>
<rect x="1123.58" y="704.5" width="4.8" height="16.1" fill="#089981"/>
<rect x="1130.48" y="656.9" width="1.1" height="53.5" fill="#0b8270"/>
<rect x="1128.63" y="664.1" width="4.8" height="40.4" fill="#089981"/>
<rect x="1135.52" y="635.0" width="1.1" height="79.6" fill="#c23a4f"/>
<rect x="1133.67" y="664.1" width="4.8" height="22.5" fill="#F23645"/>
<rect x="1140.57" y="676.9" width="1.1" height="62.8" fill="#c23a4f"/>
<rect x="1138.72" y="689.2" width="4.8" height="47.7" fill="#F23645"/>
<rect x="1145.61" y="719.3" width="1.1" height="25.1" fill="#0b8270"/>
<rect x="1143.76" y="723.1" width="4.8" height="12.8" fill="#089981"/>
<rect x="1150.65" y="710.4" width="1.1" height="44.2" fill="#c23a4f"/>
<rect x="1148.80" y="723.1" width="4.8" height="21.7" fill="#F23645"/>
<rect x="1155.70" y="734.8" width="1.1" height="27.0" fill="#c23a4f"/>
<rect x="1153.85" y="744.0" width="4.8" height="9.3" fill="#F23645"/>
<rect x="1160.74" y="746.1" width="1.1" height="22.7" fill="#c23a4f"/>
<rect x="1158.89" y="751.8" width="4.8" height="6.4" fill="#F23645"/>
<rect x="1165.78" y="754.4" width="1.1" height="42.2" fill="#c23a4f"/>
<rect x="1163.93" y="760.1" width="4.8" height="21.5" fill="#F23645"/>
<rect x="1170.83" y="731.2" width="1.1" height="52.5" fill="#0b8270"/>
<rect x="1168.98" y="743.2" width="4.8" height="40.5" fill="#089981"/>
<rect x="1175.87" y="714.1" width="1.1" height="36.6" fill="#0b8270"/>
<rect x="1174.02" y="736.6" width="4.8" height="3.1" fill="#089981"/>
<rect x="1180.91" y="728.1" width="1.1" height="49.4" fill="#c23a4f"/>
<rect x="1179.06" y="735.0" width="4.8" height="25.5" fill="#F23645"/>
<rect x="1185.96" y="751.0" width="1.1" height="33.0" fill="#c23a4f"/>
<rect x="1184.11" y="760.2" width="4.8" height="20.3" fill="#F23645"/>
<rect x="1191.00" y="763.2" width="1.1" height="24.5" fill="#0b8270"/>
<rect x="1189.15" y="774.3" width="4.8" height="7.3" fill="#089981"/>
<rect x="1196.05" y="742.0" width="1.1" height="50.5" fill="#0b8270"/>
<rect x="1194.20" y="742.0" width="4.8" height="32.8" fill="#089981"/>
<rect x="1201.09" y="729.1" width="1.1" height="24.3" fill="#0b8270"/>
<rect x="1199.24" y="738.3" width="4.8" height="4.2" fill="#089981"/>
<rect x="1206.13" y="718.0" width="1.1" height="20.4" fill="#0b8270"/>
<rect x="1204.28" y="733.2" width="4.8" height="5.2" fill="#089981"/>
<rect x="1211.18" y="703.0" width="1.1" height="29.7" fill="#0b8270"/>
<rect x="1209.33" y="708.2" width="4.8" height="24.5" fill="#089981"/>
<rect x="1216.22" y="700.2" width="1.1" height="14.5" fill="#0b8270"/>
<rect x="1214.37" y="702.2" width="4.8" height="6.2" fill="#089981"/>
<rect x="1221.26" y="695.0" width="1.1" height="19.8" fill="#c23a4f"/>
<rect x="1219.41" y="702.3" width="4.8" height="2.2" fill="#F23645"/>
<rect x="1226.31" y="686.0" width="1.1" height="28.8" fill="#0b8270"/>
<rect x="1224.46" y="691.1" width="4.8" height="14.5" fill="#089981"/>
<rect x="1231.35" y="674.1" width="1.1" height="25.7" fill="#0b8270"/>
<rect x="1229.50" y="687.1" width="4.8" height="4.3" fill="#089981"/>
<rect x="1236.40" y="681.1" width="1.1" height="79.6" fill="#c23a4f"/>
<rect x="1234.55" y="686.0" width="4.8" height="64.4" fill="#F23645"/>
<rect x="1241.44" y="689.2" width="1.1" height="67.6" fill="#0b8270"/>
<rect x="1239.59" y="716.1" width="4.8" height="35.4" fill="#089981"/>
<rect x="1246.48" y="691.1" width="1.1" height="35.4" fill="#c23a4f"/>
<rect x="1244.63" y="716.1" width="4.8" height="5.3" fill="#F23645"/>
<rect x="1251.53" y="697.1" width="1.1" height="25.4" fill="#0b8270"/>
<rect x="1249.68" y="702.2" width="4.8" height="20.3" fill="#089981"/>
<rect x="1256.57" y="621.2" width="1.1" height="81.3" fill="#0b8270"/>
<rect x="1254.72" y="693.2" width="4.8" height="9.3" fill="#089981"/>
<rect x="1261.61" y="688.3" width="1.1" height="43.2" fill="#c23a4f"/>
<rect x="1259.76" y="691.4" width="4.8" height="1.8" fill="#F23645"/>
<rect x="1266.66" y="675.2" width="1.1" height="22.3" fill="#c23a4f"/>
<rect x="1264.81" y="690.3" width="4.8" height="2.7" fill="#F23645"/>
<rect x="1271.70" y="686.2" width="1.1" height="14.3" fill="#0b8270"/>
<rect x="1269.85" y="690.2" width="4.8" height="3.2" fill="#089981"/>
<rect x="1276.75" y="649.0" width="1.1" height="45.5" fill="#0b8270"/>
<rect x="1274.89" y="670.1" width="4.8" height="18.4" fill="#089981"/>
<rect x="1281.79" y="651.0" width="1.1" height="27.5" fill="#0b8270"/>
<rect x="1279.94" y="662.0" width="4.8" height="8.5" fill="#089981"/>
<rect x="1286.83" y="630.3" width="1.1" height="42.4" fill="#0b8270"/>
<rect x="1284.98" y="642.2" width="4.8" height="21.4" fill="#089981"/>
<rect x="1291.88" y="626.0" width="1.1" height="22.6" fill="#0b8270"/>
<rect x="1290.03" y="640.1" width="4.8" height="2.4" fill="#089981"/>
<rect x="1296.92" y="618.0" width="1.1" height="22.6" fill="#0b8270"/>
<rect x="1295.07" y="623.1" width="4.8" height="17.5" fill="#089981"/>
<rect x="1301.96" y="615.9" width="1.1" height="19.7" fill="#c23a4f"/>
<rect x="1300.11" y="622.3" width="4.8" height="5.1" fill="#F23645"/>
<rect x="1307.01" y="627.4" width="1.1" height="22.3" fill="#c23a4f"/>
<rect x="1305.16" y="627.4" width="4.8" height="19.1" fill="#F23645"/>
<rect x="1312.05" y="641.2" width="1.1" height="22.5" fill="#c23a4f"/>
<rect x="1310.20" y="646.5" width="4.8" height="7.1" fill="#F23645"/>
<rect x="1317.09" y="628.1" width="1.1" height="35.6" fill="#0b8270"/>
<rect x="1315.24" y="646.2" width="4.8" height="7.4" fill="#089981"/>
<rect x="1322.14" y="640.1" width="1.1" height="49.6" fill="#c23a4f"/>
<rect x="1320.29" y="645.1" width="4.8" height="44.6" fill="#F23645"/>
<rect x="1327.18" y="662.1" width="1.1" height="35.4" fill="#0b8270"/>
<rect x="1325.33" y="664.2" width="4.8" height="26.6" fill="#089981"/>
<rect x="1332.23" y="615.1" width="1.1" height="58.2" fill="#0b8270"/>
<rect x="1330.38" y="622.1" width="4.8" height="42.7" fill="#089981"/>
<rect x="1337.27" y="613.8" width="1.1" height="23.6" fill="#c23a4f"/>
<rect x="1335.42" y="622.8" width="4.8" height="2.7" fill="#F23645"/>
</g>
<circle cx="1337.6" cy="862.5" r="12.2" fill="none" stroke="#9028aa" stroke-width="1.7"/>
<path d="M1341.9 855.9 L1332.3 863.4 L1338.4 863.4 L1333.7 869.1 L1343.3 861.6 L1337.1 861.6 Z" fill="#9028aa" stroke="#9028aa" stroke-width="0.7" stroke-linejoin="round"/>
<path d="M15.8 941.2 H30.6 V960 H23 V948.5 H15.8 Z" fill="#131722"/>
<circle cx="37" cy="945.3" r="3.6" fill="#131722"/>
<path d="M43.8 941.2 H53.1 L45.8 960 H37.3 Z" fill="#131722"/>
<path d="M1720 435 H1779.5 a2.5 2.5 0 0 1 2.5 2.5 V452.5 a2.5 2.5 0 0 1 -2.5 2.5 H1720 Z" fill="#089981"/><path d="M1720 615.2 H1792 a2.5 2.5 0 0 1 2.5 2.5 V651 a2.5 2.5 0 0 1 -2.5 2.5 H1720 Z" fill="#F23645"/><path d="M1720 653.5 H1779.5 a2.5 2.5 0 0 1 2.5 2.5 V671 a2.5 2.5 0 0 1 -2.5 2.5 H1720 Z" fill="#858585"/><path d="M1720 821 H1779.5 a2.5 2.5 0 0 1 2.5 2.5 V838.5 a2.5 2.5 0 0 1 -2.5 2.5 H1720 Z" fill="#F23645"/>
<text x="12.7" y="24.8" font-size="15" fill="#131722" stroke="#131722" stroke-width="0.25" textLength="110.7" lengthAdjust="spacingAndGlyphs">tohid_rahgoshay</text>
<text x="127.4" y="24.8" font-size="15" fill="#131722" stroke="#131722" stroke-width="0.25" textLength="52.3" lengthAdjust="spacingAndGlyphs">created</text>
<text x="183.7" y="24.8" font-size="15" fill="#131722" stroke="#131722" stroke-width="0.25" textLength="30.0" lengthAdjust="spacingAndGlyphs">with</text>
<text x="217.9" y="24.8" font-size="15" fill="#131722" stroke="#131722" stroke-width="0.25" textLength="118.9" lengthAdjust="spacingAndGlyphs">TradingView.com,</text>
<text x="342.0" y="24.8" font-size="15" fill="#131722" stroke="#131722" stroke-width="0.25" textLength="25.7" lengthAdjust="spacingAndGlyphs">Dec</text>
<text x="371.2" y="24.8" font-size="15" fill="#131722" stroke="#131722" stroke-width="0.25" textLength="20.5" lengthAdjust="spacingAndGlyphs">29,</text>
<text x="396.9" y="24.8" font-size="15" fill="#131722" stroke="#131722" stroke-width="0.25" textLength="32.0" lengthAdjust="spacingAndGlyphs">2025</text>
<text x="432.9" y="24.8" font-size="15" fill="#131722" stroke="#131722" stroke-width="0.25" textLength="37.3" lengthAdjust="spacingAndGlyphs">09:43</text>
<text x="474.6" y="24.8" font-size="15" fill="#131722" stroke="#131722" stroke-width="0.25" textLength="65.6" lengthAdjust="spacingAndGlyphs">UTC+3:30</text>
<text x="22.7" y="58.8" font-size="14.8" fill="#131722" stroke="#131722" stroke-width="0.25" textLength="55.7" lengthAdjust="spacingAndGlyphs">SPX6900</text>
<text x="83.7" y="58.8" font-size="14.8" fill="#131722" stroke="#131722" stroke-width="0.25">/</text>
<text x="95.4" y="58.8" font-size="14.8" fill="#131722" stroke="#131722" stroke-width="0.25" textLength="34.3" lengthAdjust="spacingAndGlyphs">USDT</text>
<text x="144.2" y="58.8" font-size="14.8" fill="#131722" stroke="#131722" stroke-width="0.25" textLength="16.9" lengthAdjust="spacingAndGlyphs">4h</text>
<text x="175.6" y="58.8" font-size="14.8" fill="#131722" stroke="#131722" stroke-width="0.25" textLength="36.0" lengthAdjust="spacingAndGlyphs">MEXC</text>
<text x="220.3" y="58.8" font-size="14.8" fill="#131722" stroke="#131722" stroke-width="0.25" textLength="11.1" lengthAdjust="spacingAndGlyphs">O</text>
<text x="231.0" y="58.8" font-size="14.8" fill="#F23645" stroke="#F23645" stroke-width="0.25" textLength="45.1" lengthAdjust="spacingAndGlyphs">0.5166</text>
<text x="285.6" y="58.8" font-size="14.8" fill="#131722" stroke="#131722" stroke-width="0.25" textLength="9.1" lengthAdjust="spacingAndGlyphs">H</text>
<text x="294.4" y="58.8" font-size="14.8" fill="#F23645" stroke="#F23645" stroke-width="0.25" textLength="45.8" lengthAdjust="spacingAndGlyphs">0.5200</text>
<text x="349.1" y="58.8" font-size="14.8" fill="#131722" stroke="#131722" stroke-width="0.25" textLength="7.7" lengthAdjust="spacingAndGlyphs">L</text>
<text x="356.5" y="58.8" font-size="14.8" fill="#F23645" stroke="#F23645" stroke-width="0.25" textLength="45.5" lengthAdjust="spacingAndGlyphs">0.5108</text>
<text x="410.3" y="58.8" font-size="14.8" fill="#131722" stroke="#131722" stroke-width="0.25" textLength="9.7" lengthAdjust="spacingAndGlyphs">C</text>
<text x="419.6" y="58.8" font-size="14.8" fill="#F23645" stroke="#F23645" stroke-width="0.25" textLength="44.8" lengthAdjust="spacingAndGlyphs">0.5159</text>
<text x="474.0" y="58.8" font-size="14.8" fill="#F23645" stroke="#F23645" stroke-width="0.25" textLength="52.1" lengthAdjust="spacingAndGlyphs">−0.0009</text>
<text x="531.3" y="58.8" font-size="14.8" fill="#F23645" stroke="#F23645" stroke-width="0.25" textLength="57.1" lengthAdjust="spacingAndGlyphs">(−0.17%)</text>
<circle cx="137.4" cy="53.6" r="1.0" fill="#131722"/>
<circle cx="168.8" cy="53.6" r="1.0" fill="#131722"/>
<text x="1729.5" y="135.0" font-size="15" fill="#131722" stroke="#131722" stroke-width="0.25" textLength="45.8" lengthAdjust="spacingAndGlyphs">0.7400</text>
<text x="1729.5" y="172.7" font-size="15" fill="#131722" stroke="#131722" stroke-width="0.25" textLength="45.8" lengthAdjust="spacingAndGlyphs">0.7200</text>
<text x="1729.5" y="211.8" font-size="15" fill="#131722" stroke="#131722" stroke-width="0.25" textLength="45.8" lengthAdjust="spacingAndGlyphs">0.7000</text>
<text x="1729.5" y="251.1" font-size="15" fill="#131722" stroke="#131722" stroke-width="0.25" textLength="45.8" lengthAdjust="spacingAndGlyphs">0.6800</text>
<text x="1729.5" y="291.5" font-size="15" fill="#131722" stroke="#131722" stroke-width="0.25" textLength="45.8" lengthAdjust="spacingAndGlyphs">0.6600</text>
<text x="1729.5" y="333.3" font-size="15" fill="#131722" stroke="#131722" stroke-width="0.25" textLength="45.8" lengthAdjust="spacingAndGlyphs">0.6400</text>
<text x="1729.5" y="377.3" font-size="15" fill="#131722" stroke="#131722" stroke-width="0.25" textLength="45.8" lengthAdjust="spacingAndGlyphs">0.6200</text>
<text x="1729.5" y="422.5" font-size="15" fill="#131722" stroke="#131722" stroke-width="0.25" textLength="45.8" lengthAdjust="spacingAndGlyphs">0.6000</text>
<text x="1729.5" y="468.3" font-size="15" fill="#131722" stroke="#131722" stroke-width="0.25" textLength="45.8" lengthAdjust="spacingAndGlyphs">0.5800</text>
<text x="1729.5" y="516.3" font-size="15" fill="#131722" stroke="#131722" stroke-width="0.25" textLength="45.8" lengthAdjust="spacingAndGlyphs">0.5600</text>
<text x="1729.5" y="566.3" font-size="15" fill="#131722" stroke="#131722" stroke-width="0.25" textLength="45.8" lengthAdjust="spacingAndGlyphs">0.5400</text>
<text x="1729.5" y="605.5" font-size="15" fill="#131722" stroke="#131722" stroke-width="0.25" textLength="45.8" lengthAdjust="spacingAndGlyphs">0.5250</text>
<text x="1729.5" y="686.3" font-size="15" fill="#131722" stroke="#131722" stroke-width="0.25" textLength="45.8" lengthAdjust="spacingAndGlyphs">0.4950</text>
<text x="1729.5" y="729.0" font-size="15" fill="#131722" stroke="#131722" stroke-width="0.25" textLength="45.8" lengthAdjust="spacingAndGlyphs">0.4800</text>
<text x="1729.5" y="772.2" font-size="15" fill="#131722" stroke="#131722" stroke-width="0.25" textLength="45.8" lengthAdjust="spacingAndGlyphs">0.4650</text>
<text x="1729.5" y="813.6" font-size="15" fill="#131722" stroke="#131722" stroke-width="0.25" textLength="45.8" lengthAdjust="spacingAndGlyphs">0.4510</text>
<text x="1729.5" y="853.8" font-size="15" fill="#131722" stroke="#131722" stroke-width="0.25" textLength="45.8" lengthAdjust="spacingAndGlyphs">0.4380</text>
<text x="22.7" y="902.0" font-size="15" fill="#131722" stroke="#131722" stroke-width="0.25" textLength="16.2" lengthAdjust="spacingAndGlyphs">16</text>
<text x="113.5" y="902.0" font-size="15" fill="#131722" stroke="#131722" stroke-width="0.25" textLength="16.2" lengthAdjust="spacingAndGlyphs">19</text>
<text x="204.3" y="902.0" font-size="15" fill="#131722" stroke="#131722" stroke-width="0.25" textLength="16.2" lengthAdjust="spacingAndGlyphs">22</text>
<text x="295.0" y="902.0" font-size="15" fill="#131722" stroke="#131722" stroke-width="0.25" textLength="16.2" lengthAdjust="spacingAndGlyphs">25</text>
<text x="385.8" y="902.0" font-size="15" fill="#131722" stroke="#131722" stroke-width="0.25" textLength="16.2" lengthAdjust="spacingAndGlyphs">28</text>
<text x="471.8" y="902.0" font-size="15" fill="#131722" stroke="#131722" stroke-width="0.25" textLength="25.8" lengthAdjust="spacingAndGlyphs">Dec</text>
<text x="571.2" y="902.0" font-size="15" fill="#131722" stroke="#131722" stroke-width="0.25" textLength="8.6" lengthAdjust="spacingAndGlyphs">4</text>
<text x="662.0" y="902.0" font-size="15" fill="#131722" stroke="#131722" stroke-width="0.25" textLength="8.6" lengthAdjust="spacingAndGlyphs">7</text>
<text x="748.9" y="902.0" font-size="15" fill="#131722" stroke="#131722" stroke-width="0.25" textLength="16.2" lengthAdjust="spacingAndGlyphs">10</text>
<text x="839.7" y="902.0" font-size="15" fill="#131722" stroke="#131722" stroke-width="0.25" textLength="16.2" lengthAdjust="spacingAndGlyphs">13</text>
<text x="930.5" y="902.0" font-size="15" fill="#131722" stroke="#131722" stroke-width="0.25" textLength="16.2" lengthAdjust="spacingAndGlyphs">16</text>
<text x="1021.3" y="902.0" font-size="15" fill="#131722" stroke="#131722" stroke-width="0.25" textLength="16.2" lengthAdjust="spacingAndGlyphs">19</text>
<text x="1112.1" y="902.0" font-size="15" fill="#131722" stroke="#131722" stroke-width="0.25" textLength="16.2" lengthAdjust="spacingAndGlyphs">22</text>
<text x="1202.8" y="902.0" font-size="15" fill="#131722" stroke="#131722" stroke-width="0.25" textLength="16.2" lengthAdjust="spacingAndGlyphs">25</text>
<text x="1293.6" y="902.0" font-size="15" fill="#131722" stroke="#131722" stroke-width="0.25" textLength="16.2" lengthAdjust="spacingAndGlyphs">28</text>
<text x="1405.2" y="902.0" font-size="15" fill="#131722" textLength="35.1" lengthAdjust="spacingAndGlyphs" font-weight="bold">2026</text>
<text x="1509.2" y="902.0" font-size="15" fill="#131722" stroke="#131722" stroke-width="0.25" textLength="8.6" lengthAdjust="spacingAndGlyphs">4</text>
<text x="1600.0" y="902.0" font-size="15" fill="#131722" stroke="#131722" stroke-width="0.25" textLength="8.6" lengthAdjust="spacingAndGlyphs">7</text>
<text x="1687.0" y="902.0" font-size="15" fill="#131722" stroke="#131722" stroke-width="0.25" textLength="16.2" lengthAdjust="spacingAndGlyphs">10</text>
<text x="1730.3" y="450.6" font-size="15" fill="#fff" textLength="45.8" lengthAdjust="spacingAndGlyphs">0.5880</text>
<text x="1730.3" y="630.6" font-size="15" fill="#fff" textLength="45.8" lengthAdjust="spacingAndGlyphs">0.5159</text>
<text x="1730.3" y="648.8" font-size="15" fill="#fff" textLength="59.4" lengthAdjust="spacingAndGlyphs">01:46:18</text>
<text x="1730.3" y="668.6" font-size="15" fill="#fff" textLength="45.8" lengthAdjust="spacingAndGlyphs">0.5156</text>
<text x="1730.3" y="836.4" font-size="15" fill="#fff" textLength="45.8" lengthAdjust="spacingAndGlyphs">0.4436</text>
<text x="1735.0" y="60.0" font-size="16" fill="#131722" stroke="#131722" stroke-width="0.25" textLength="35.5" lengthAdjust="spacingAndGlyphs">USDT</text>
<text x="61.6" y="960.0" font-size="27" fill="#131722" textLength="152.0" lengthAdjust="spacingAndGlyphs" font-weight="bold">TradingView</text>
</svg>
</body></html>
